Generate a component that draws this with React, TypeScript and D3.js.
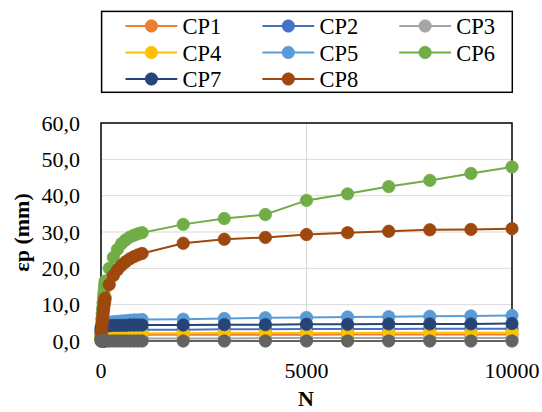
import React from "react";
import * as d3 from "d3";

const N = [1, 10, 20, 30, 40, 50, 60, 70, 80, 90, 100, 200, 300, 400, 500, 600, 700, 800, 900, 1000, 2000, 3000, 4000, 5000, 6000, 7000, 8000, 9000, 10000];

const CP1 = [1.0, 1.3, 1.4, 1.4, 1.5, 1.5, 1.5, 1.5, 1.5, 1.6, 1.6, 1.6, 1.6, 1.6, 1.6, 1.6, 1.6, 1.7, 1.7, 1.7, 1.7, 1.7, 1.7, 1.7, 1.8, 1.8, 1.8, 1.8, 1.8];
const CP2 = [2.2, 2.6, 2.7, 2.8, 2.8, 2.9, 2.9, 2.9, 2.9, 3.0, 3.0, 3.0, 3.0, 3.0, 3.1, 3.1, 3.1, 3.1, 3.1, 3.1, 3.1, 3.2, 3.2, 3.3, 3.3, 3.3, 3.4, 3.4, 3.4];
const CP3 = [0.4, 0.5, 0.5, 0.6, 0.6, 0.6, 0.6, 0.6, 0.7, 0.7, 0.7, 0.7, 0.7, 0.7, 0.7, 0.7, 0.7, 0.7, 0.7, 0.7, 0.7, 0.7, 0.8, 0.8, 0.8, 0.8, 0.8, 0.8, 0.8];
const CP4 = [1.4, 1.7, 1.8, 1.9, 1.9, 1.9, 2.0, 2.0, 2.0, 2.0, 2.0, 2.0, 2.1, 2.1, 2.1, 2.1, 2.1, 2.1, 2.1, 2.1, 2.1, 2.2, 2.2, 2.2, 2.2, 2.3, 2.3, 2.3, 2.3];
const CP5 = [3.5, 4.2, 4.4, 4.5, 4.6, 4.7, 4.8, 4.8, 4.9, 4.9, 5.0, 5.2, 5.3, 5.4, 5.5, 5.6, 5.7, 5.8, 5.8, 5.9, 6.0, 6.2, 6.4, 6.5, 6.6, 6.7, 6.8, 6.9, 7.0];
const CP6 = [1.0, 4.0, 6.0, 7.5, 9.0, 10.5, 11.8, 13.0, 14.3, 15.4, 16.5, 20.0, 23.0, 25.2, 26.8, 27.8, 28.6, 29.1, 29.5, 29.8, 32.1, 33.7, 34.8, 38.7, 40.5, 42.5, 44.2, 46.1, 47.9];
const CP7 = [3.0, 3.6, 3.8, 3.9, 4.0, 4.0, 4.1, 4.1, 4.1, 4.2, 4.2, 4.2, 4.3, 4.3, 4.3, 4.3, 4.4, 4.4, 4.4, 4.4, 4.4, 4.5, 4.5, 4.6, 4.6, 4.7, 4.7, 4.7, 4.8];
const CP8 = [0.5, 2.0, 3.5, 5.0, 6.3, 7.5, 8.5, 9.5, 10.3, 11.0, 11.8, 15.5, 18.0, 19.6, 20.8, 21.8, 22.6, 23.2, 23.7, 24.1, 26.9, 28.0, 28.5, 29.3, 29.8, 30.2, 30.6, 30.7, 30.9];
const S9 = [0, 0, 0, 0, 0, 0, 0, 0, 0, 0, 0, 0, 0, 0, 0, 0, 0, 0, 0, 0, 0, 0, 0, 0, 0, 0, 0, 0, 0];

const seriesNames = ["CP1", "CP2", "CP3", "CP4", "CP5", "CP6", "CP7", "CP8", ""];
const seriesValues = [CP1, CP2, CP3, CP4, CP5, CP6, CP7, CP8, S9];
const seriesColors = ["#ED7D31", "#4472C4", "#A5A5A5", "#FFC000", "#5B9BD5", "#70AD47", "#264478", "#9E480E", "#636363"];

const yTicks = [0, 10, 20, 30, 40, 50, 60];
const xTicks = [0, 5000, 10000];

const FONT = "'Liberation Serif', 'Times New Roman', serif";

export default function App() {
  const W = 542, H = 412;
  const left = 101, right = 512, top = 123, bottom = 341;
  const x = d3.scaleLinear().domain([0, 10000]).range([left, right]);
  const y = d3.scaleLinear().domain([0, 60]).range([bottom, top]);
  const line = d3.line<number>().x((_, i) => x(N[i])).y((v) => y(v));
  const fmt = (v: number) => d3.format(".1f")(v).replace(".", ",");

  const legendItems = seriesNames.slice(0, 8).map((name, i) => ({ name, color: seriesColors[i], col: i % 3, row: Math.floor(i / 3) }));
  const colX = [125.5, 262.4, 399.2];
  const rowY = [26, 52.5, 79];

  return (
    <svg width={W} height={H} style={{ position: "absolute", left: 0, top: 0 }} fontFamily={FONT}>
      <rect x={0} y={0} width={W} height={H} fill="#fff" />
      {yTicks.filter((t) => t > 0 && t < 60).map((t) => (
        <line key={"gy" + t} x1={left} x2={right} y1={y(t)} y2={y(t)} stroke="#d9d9d9" strokeWidth={1} />
      ))}
      {xTicks.filter((t) => t > 0 && t < 10000).map((t) => (
        <line key={"gx" + t} x1={x(t)} x2={x(t)} y1={top} y2={bottom} stroke="#d9d9d9" strokeWidth={1} />
      ))}
      <rect x={left} y={top} width={right - left} height={bottom - top} fill="none" stroke="#000" strokeWidth={1.5} />
      {seriesValues.map((vals, si) => (
        <g key={"s" + si}>
          <path d={line(vals) || ""} fill="none" stroke={seriesColors[si]} strokeWidth={2} />
          {vals.map((v, i) => (
            <circle key={i} cx={x(N[i])} cy={y(v)} r={6.2} fill={seriesColors[si]} stroke={seriesColors[si]} strokeWidth={0.75} />
          ))}
        </g>
      ))}
      {yTicks.map((t) => (
        <text key={"yl" + t} x={80} y={y(t) + 7.5} textAnchor="end" fontSize={22} fill="#000">{fmt(t)}</text>
      ))}
      {xTicks.map((t) => (
        <text key={"xl" + t} x={x(t)} y={378} textAnchor="middle" fontSize={22} fill="#000">{t}</text>
      ))}
      <text x={306} y={406} textAnchor="middle" fontSize={22} fontWeight="bold">N</text>
      <text transform={`translate(29,232.5) rotate(-90)`} textAnchor="middle" fontSize={22} fontWeight="bold">εp (mm)</text>
      <rect x={101.6} y={11.4} width={410.7} height={80.9} fill="#fff" stroke="#000" strokeWidth={1.5} />
      {legendItems.map((it) => {
        const lx = colX[it.col];
        const ly = rowY[it.row];
        return (
          <g key={it.name}>
            <line x1={lx} x2={lx + 51.8} y1={ly} y2={ly} stroke={it.color} strokeWidth={2} />
            <circle cx={lx + 25.9} cy={ly} r={6.2} fill={it.color} stroke={it.color} strokeWidth={0.75} />
            <text x={lx + 57} y={ly + 8} fontSize={22.5} fill="#000">{it.name}</text>
          </g>
        );
      })}
    </svg>
  );
}
